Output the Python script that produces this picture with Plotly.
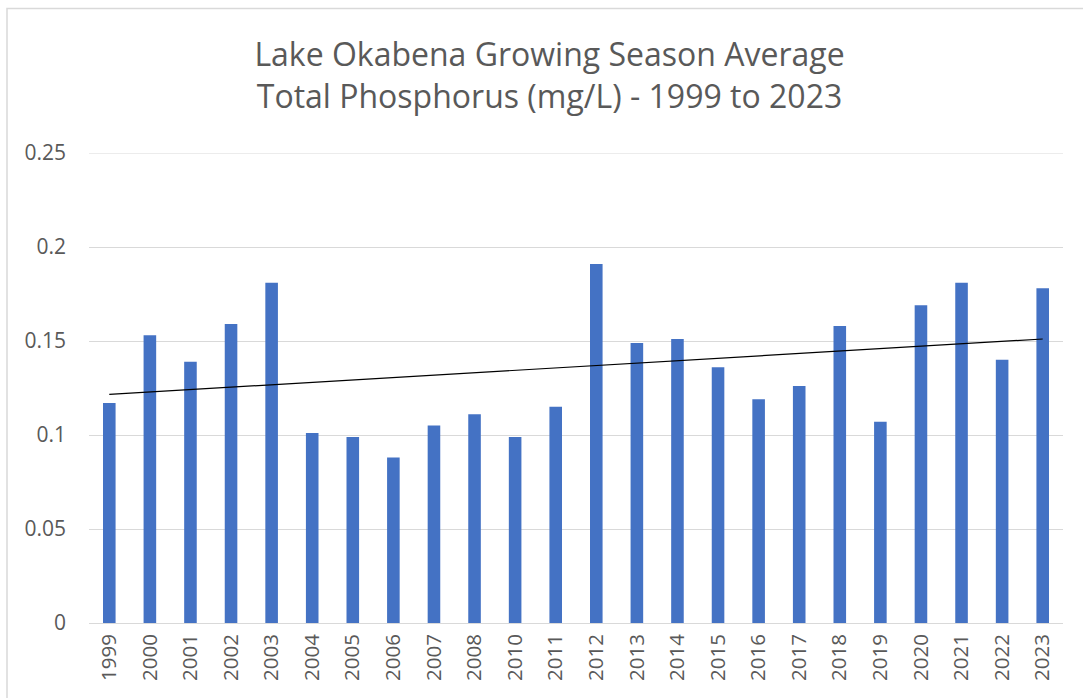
import numpy as np
import plotly.graph_objects as go

years = ["1999", "2000", "2001", "2002", "2003", "2004", "2005", "2006", "2007", "2008",
         "2010", "2011", "2012", "2013", "2014", "2015", "2016", "2017", "2018", "2019",
         "2020", "2021", "2022", "2023"]
tp_values = [0.117, 0.153, 0.139, 0.159, 0.181, 0.101, 0.099, 0.088, 0.105, 0.111,
             0.099, 0.115, 0.191, 0.149, 0.151, 0.136, 0.119, 0.126, 0.158, 0.107,
             0.169, 0.181, 0.140, 0.178]
y_ticks = [0, 0.05, 0.1, 0.15, 0.2, 0.25]
y_tick_labels = ["0", "0.05", "0.1", "0.15", "0.2", "0.25"]

# Linear trendline over category index (as Excel does)
idx = np.arange(1, len(tp_values) + 1)
slope, intercept = np.polyfit(idx, tp_values, 1)
trend = slope * idx + intercept

W, H = 1083, 698
L, R, T, B = 89, 20, 153, 75
pw, ph = W - L - R, H - T - B

def px_x(p):
    return (p - L) / pw

def px_y(p):
    return (H - B - p) / ph

fig = go.Figure()
fig.add_trace(go.Bar(x=years, y=tp_values, marker=dict(color="#4472C4", line=dict(width=0)),
                     showlegend=False, hoverinfo="skip"))
fig.add_trace(go.Scatter(x=years, y=trend, mode="lines", line=dict(color="black", width=1.2),
                         showlegend=False, hoverinfo="skip"))

fig.update_layout(
    width=W, height=H,
    margin=dict(l=L, r=R, t=T, b=B),
    paper_bgcolor="white", plot_bgcolor="white",
    bargap=0.69,
    font=dict(family="Open Sans", color="#595959"),
    title=dict(text="Lake Okabena Growing Season Average<br>Total Phosphorus (mg/L) - 1999 to 2023",
               x=549.5 / W, xref="container", xanchor="center", y=1 - 66 / H, yref="container",
               yanchor="middle",
               font=dict(family="Open Sans", size=32, color="#595959")),
    xaxis=dict(type="category", tickangle=-90, tickfont=dict(size=20.5, color="#595959"),
               showgrid=False, showline=False, ticks="", zeroline=False,
               ticklabelstandoff=6),
    yaxis=dict(range=[0, 0.25], tickvals=y_ticks, ticktext=y_tick_labels,
               tickfont=dict(size=21, color="#595959"), showgrid=True, gridcolor="#d9d9d9",
               gridwidth=1, zeroline=True, zerolinecolor="#d9d9d9", zerolinewidth=1,
               showline=False, ticks="", ticklabelstandoff=22),
    shapes=[dict(type="rect", xref="paper", yref="paper",
                 x0=px_x(7), x1=px_x(1100), y0=px_y(710), y1=px_y(8.5),
                 line=dict(color="#d9d9d9", width=1.5), fillcolor="rgba(0,0,0,0)", layer="below"),
            dict(type="line", xref="paper", yref="y", x0=0, x1=1, y0=y_ticks[-1], y1=y_ticks[-1],
                 line=dict(color="#d9d9d9", width=1), layer="below")],
)

fig.write_html("out.html", config={"displayModeBar": False},
               post_script="document.body.style.margin='0';document.body.style.overflow='hidden';")
